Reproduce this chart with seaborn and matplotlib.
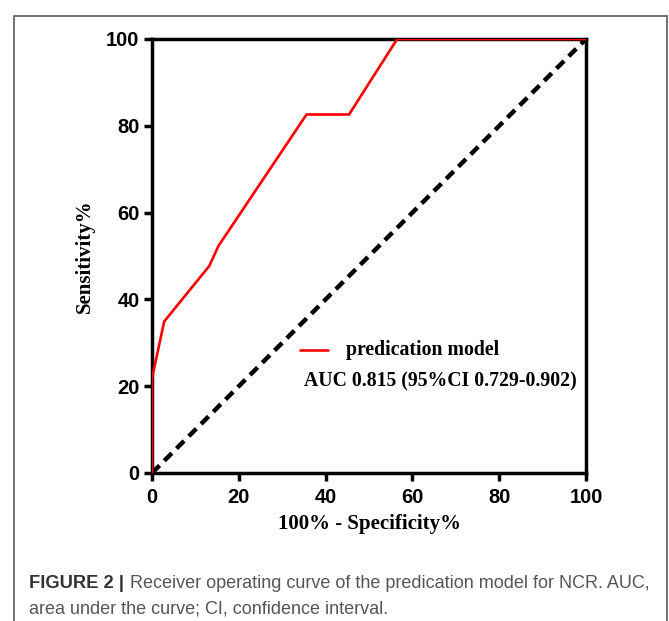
import pandas as pd
import matplotlib.pyplot as plt
import seaborn as sns
from matplotlib.patches import Rectangle
from matplotlib.lines import Line2D

# ROC points
fpr = [0, 0, 2.8, 13.2, 15.3, 35.6, 45.4, 56.5, 100]
tpr = [0, 21.8, 34.9, 47.7, 52.3, 82.6, 82.6, 100, 100]
ref_x = [0, 100]
ref_y = [0, 100]
ticks = [0, 20, 40, 60, 80, 100]

df = pd.DataFrame({"fpr": fpr, "tpr": tpr})
ref = pd.DataFrame({"x": ref_x, "y": ref_y})

sns.set_style("ticks")
plt.rcParams["font.family"] = ["Liberation Sans", "DejaVu Sans"]

fig = plt.figure(figsize=(6.69, 6.21), dpi=100)
ax = fig.add_axes([152 / 669, 1 - 473 / 621, 434 / 669, 434 / 621])

sns.lineplot(data=ref, x="x", y="y", ax=ax, color="black", lw=3.2,
             linestyle=(0, (2.4, 1.5)), zorder=2)
sns.lineplot(data=df, x="fpr", y="tpr", ax=ax, color="#ff0000", lw=1.9,
             sort=False, estimator=None, zorder=3)

ax.set_xlim(0, 100)
ax.set_ylim(0, 100)
ax.set_xticks(ticks)
ax.set_yticks(ticks)
ax.tick_params(width=2.5, length=6, direction="out", colors="black")
ax.tick_params(axis="x", pad=5)
ax.tick_params(axis="y", pad=3)
for lab in ax.get_xticklabels() + ax.get_yticklabels():
    lab.set_fontweight("bold")
    lab.set_fontsize(14.5)
    lab.set_color("black")
for s in ax.spines.values():
    s.set_visible(True)
    s.set_linewidth(2.5)
    s.set_color("black")

serif = ["Liberation Serif", "DejaVu Serif"]
ax.set_xlabel("100% - Specificity%", family=serif, fontweight="bold",
              fontsize=15, labelpad=5, color="black")
ax.set_ylabel("Sensitivity%", family=serif, fontweight="bold",
              fontsize=15, labelpad=8, color="black")

# legend-like annotation
ax.add_line(Line2D([34, 40.5], [28.3, 28.3], color="#ff0000", lw=1.9,
                   transform=ax.transData))
ax.text(44.6, 28.3, "predication model", family=serif, fontweight="bold",
        fontsize=14.2, va="center", ha="left", color="black")
ax.text(35, 21.2, "AUC 0.815 (95%CI 0.729-0.902)", family=serif,
        fontweight="bold", fontsize=14.2, va="center", ha="left",
        color="black")

# outer frame
fig.patches.append(Rectangle((14 / 669, -0.05), 653 / 669, 1 - 16 / 621 + 0.05,
                             transform=fig.transFigure, fill=False,
                             edgecolor="#666666", lw=1.3))

fig.text(29 / 669, 1 - 583 / 621, "FIGURE 2 |", fontweight="bold",
         fontsize=13.2, color="#333333", va="center", ha="left")
fig.text(130 / 669, 1 - 583 / 621,
         "Receiver operating curve of the predication model for NCR. AUC,",
         fontsize=13, color="#555555", va="center", ha="left")
fig.text(29 / 669, 1 - 609 / 621,
         "area under the curve; CI, confidence interval.",
         fontsize=13, color="#555555", va="center", ha="left")

fig.savefig("out.png", dpi=100, facecolor="white")
